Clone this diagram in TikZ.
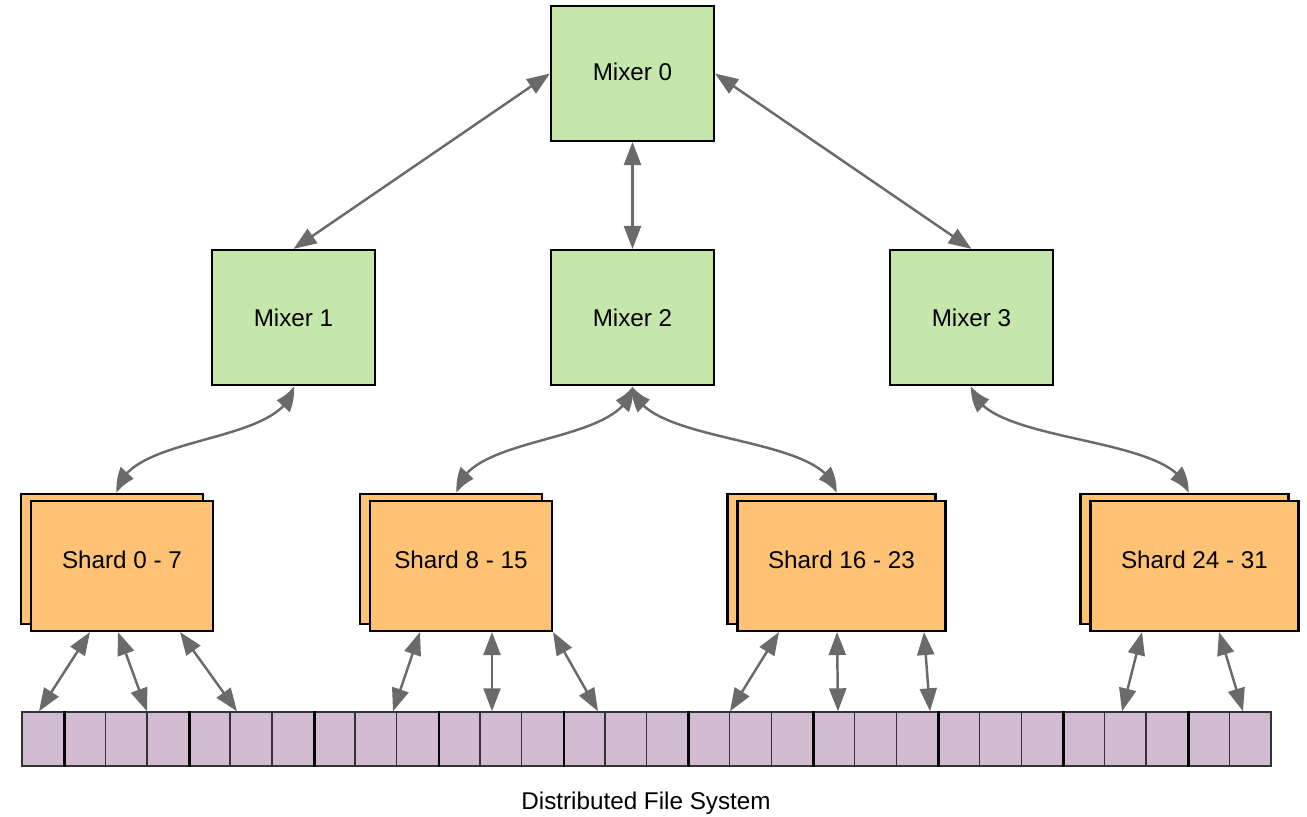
\documentclass[tikz,border=0pt]{standalone}
\usepackage{fontspec}
\setmainfont{Liberation Sans}
\usetikzlibrary{arrows.meta,bending}
\definecolor{mixgreen}{HTML}{C5E7AB}
\definecolor{shardorange}{HTML}{FDC274}
\definecolor{celllilac}{HTML}{D1BBD1}
\definecolor{linkgray}{HTML}{6A6A6A}

\begin{document}
\begin{tikzpicture}
  [x=0.02cm, y=-0.02cm,
   mixer/.style={draw, fill=mixgreen, line width=1.2pt,
     minimum width=3.26cm, minimum height=2.7cm,
     font=\fontsize{13.8}{16}\selectfont},
   shard/.style={draw, fill=shardorange, line width=1.2pt,
     minimum height=2.6cm, font=\fontsize{13.8}{16}\selectfont},
   cell/.style={draw=black!80, fill=celllilac, line width=0.8pt,
     minimum width=0.8327cm, minimum height=1.08cm, inner sep=0pt},
   link/.style={<->, >={Triangle[length=4.6mm,width=3.4mm]},
     draw=linkgray, line width=1.4pt}]
  \useasboundingbox (0,0) rectangle (1307,817);

  % mixers
  \node[mixer, text depth=2pt] (m0) at (632.5,73.5) {Mixer 0};
  \node[mixer] (m1) at (293.5,317.5) {Mixer 1};
  \node[mixer] (m2) at (632.5,317.5) {Mixer 2};
  \node[mixer] (m3) at (971.5,317.5) {Mixer 3};

  % shards, each with a copy behind it
  \foreach \s/\x/\w/\txt in {0/122/3.64/Shard 0 - 7, 1/461/3.64/Shard 8 - 15,
    2/841.5/4.16/Shard 16 - 23, 3/1194.5/4.16/Shard 24 - 31}
  {
    \node[shard, minimum width=\w cm] (back\s) at (\x-10,559) {};
    \node[shard, minimum width=\w cm, text depth=6.8pt] (s\s) at (\x,566) {\txt};
  }

  % distributed file system
  \foreach \i in {1,...,30}
    \node[cell] (c\i) at ({22+41.633*(\i-0.5)},739) {};
  \foreach \i in {1,4,...,28}
    \draw[line width=1.6pt] (c\i.north east) -- (c\i.south east);
  \node[font=\fontsize{13.8}{16}\selectfont] (dfs) at (646,803) {Distributed File System};

  % mixer tree
  \draw[link] (m0.west) -- (m1.north);
  \draw[link] (m0.south) -- (m2.north);
  \draw[link] (m0.east) -- (m3.north);

  \draw[link, >={Triangle[length=4.6mm,width=3.4mm,bend]}]
    (m1.south) .. controls +(-8,60) and +(8,-60) .. (117,0 |- back0.north);
  \draw[link, >={Triangle[length=4.6mm,width=3.4mm,bend]}]
    (m2.south) .. controls +(-8,60) and +(8,-60) .. (457,0 |- back1.north);
  \draw[link, >={Triangle[length=4.6mm,width=3.4mm,bend]}]
    (m2.south) .. controls +(8,60) and +(-8,-60) .. (836,0 |- back2.north);
  \draw[link, >={Triangle[length=4.6mm,width=3.4mm,bend]}]
    (m3.south) .. controls +(8,60) and +(-8,-60) .. (1188,0 |- back3.north);

  % shards to file blocks
  \foreach \s/\a/\b in {0/90/39, 0/118/147, 0/180/237,
    1/420/393, 1/492/492, 1/553/598,
    2/779/730, 2/837/838, 2/924/930,
    3/1142/1122, 3/1219/1243}
    \draw[link] (\a,0 |- s\s.south) -- (\b,0 |- c1.north);
\end{tikzpicture}
\end{document}
